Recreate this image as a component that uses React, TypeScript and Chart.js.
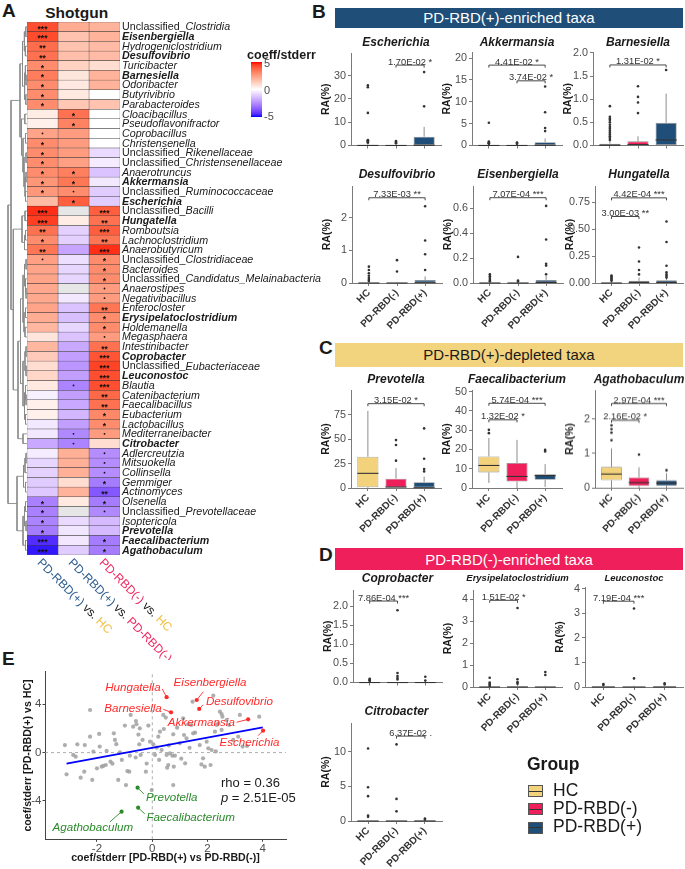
import React, { useEffect, useRef } from 'react';
import { Chart, registerables } from 'chart.js';

Chart.register(...registerables);

const FONT = '"Liberation Sans", Arial, Helvetica, sans-serif';
Chart.defaults.font.family = FONT;
Chart.defaults.color = '#4d4d4d';

/* ================= Panel A : heatmap data ================= */
const taxa = [
  'Unclassified_Clostridia', 'Eisenbergiella', 'Hydrogeniclostridium', 'Desulfovibrio', 'Turicibacter',
  'Barnesiella', 'Odoribacter', 'Butyrivibrio', 'Parabacteroides', 'Cloacibacillus',
  'Pseudoflavonifractor', 'Coprobacillus', 'Christensenella', 'Unclassified_Rikenellaceae', 'Unclassified_Christensenellaceae',
  'Anaerotruncus', 'Akkermansia', 'Unclassified_Ruminococcaceae', 'Escherichia', 'Unclassified_Bacilli',
  'Hungatella', 'Romboutsia', 'Lachnoclostridium', 'Anaerobutyricum', 'Unclassified_Clostridiaceae',
  'Bacteroides', 'Unclassified_Candidatus_Melainabacteria', 'Anaerostipes', 'Negativibacillus', 'Enterocloster',
  'Erysipelatoclostridium', 'Holdemanella', 'Megasphaera', 'Intestinibacter', 'Coprobacter',
  'Unclassified_Eubacteriaceae', 'Leuconostoc', 'Blautia', 'Catenibacterium', 'Faecalibacillus',
  'Eubacterium', 'Lactobacillus', 'Mediterraneibacter', 'Citrobacter', 'Adlercreutzia',
  'Mitsuokella', 'Collinsella', 'Gemmiger', 'Actinomyces', 'Olsenella',
  'Unclassified_Prevotellaceae', 'Isoptericola', 'Prevotella', 'Faecalibacterium', 'Agathobaculum',
];
const boldTaxa = ['Eisenbergiella', 'Desulfovibrio', 'Barnesiella', 'Akkermansia', 'Escherichia', 'Hungatella',
  'Erysipelatoclostridium', 'Coprobacter', 'Leuconostoc', 'Citrobacter', 'Prevotella', 'Faecalibacterium', 'Agathobaculum'];

// coefficient / stderr, PD-RBD(+) vs HC
const coefPlusVsHC = [
  4.3, 4.36, 3.7, 3.62, 3.0,
  3.34, 3.0, 3.0, 3.0, 0.5,
  0.4, 2.4, 3.0, 3.0, 3.0,
  3.0, 2.76, 2.7, 1.82, 4.8,
  4.59, 3.6, 3.0, 3.5, 2.5,
  2.4, 2.4, 2.3, 2.3, 2.4,
  2.2, 1.9, 0.7, 1.9, 1.4,
  0.9, 1.1, 0.6, -0.3, 0.4,
  0.4, -0.5, -0.5, -1.9, -0.4,
  -0.9, -1.0, -1.1, -1.2, -2.8,
  -2.8, -2.7, -2.9, -4.55, -4.88,
];
// PD-RBD(+) vs PD-RBD(-)
const coefPlusVsMinus = [
  2.2, 1.61, 1.6, 1.7, 1.2,
  0.68, 0.6, 0.6, 1.5, 3.6,
  3.2, 2.6, 2.6, 2.6, 2.5,
  3.3, 3.47, 3.0, 4.01, null,
  0.52, -1.0, -1.0, -2.0, -0.7,
  -0.9, -0.9, null, -0.5, -1.3,
  -1.4, -0.9, -1.3, -1.9, -2.1,
  -2.3, -2.1, -2.7, -2.1, -1.9,
  -1.6, -2.1, -2.6, -2.7, 2.1,
  2.1, 2.1, 0.9, 2.0, 0.6,
  null, -0.8, -0.53, -0.51, -1.11,
];
// PD-RBD(-) vs HC
const coefMinusVsHC = [
  2.0, 2.0, 1.8, 1.8, 0.9,
  2.0, 2.0, 0.0, 1.6, 0.0,
  0.0, 0.0, 0.0, -0.8, -0.4,
  -1.3, -0.5, -1.1, -1.1, 4.0,
  3.6, 4.0, 3.5, 4.8, 3.0,
  3.0, 3.0, 2.6, 2.6, 3.5,
  3.0, 3.0, 2.6, 3.6, 4.2,
  4.5, 4.3, 4.3, 3.8, 3.6,
  3.1, 3.0, 2.6, 0.9, -2.5,
  -2.5, -2.5, -2.9, -3.7, -2.9,
  -2.6, -1.5, -1.5, -2.9, -2.9,
];
const sigPlusVsHC = [
  '***', '***', '**', '**', '*', '*', '*', '*', '*', '', '', '.', '*', '*', '*', '*', '*', '*', '',
  '***', '***', '**', '*', '**', '.',
  '', '', '', '', '', '', '', '', '', '', '', '', '', '', '', '', '', '', '', '', '', '', '', '',
  '*', '*', '*', '*', '***', '***',
];
const sigPlusVsMinus = [
  '', '', '', '', '', '', '', '', '', '*', '*', '', '', '', '', '*', '*', '.', '*',
  '', '', '', '', '', '', '', '', '', '', '', '', '', '', '', '', '', '', '.',
  '', '', '', '', '.', '.',
  '', '', '', '', '', '', '', '', '', '', '',
];
const sigMinusVsHC = [
  '', '', '', '', '', '', '', '', '', '', '', '', '', '', '', '', '', '', '',
  '***', '**', '***', '**', '***', '*', '*', '*', '.', '.', '**', '*', '*', '.', '**', '***', '***', '***', '***',
  '**', '**', '*', '*', '.', '', '.', '.', '.', '*', '**', '*', '.', '', '', '*', '*',
];
const contrastParts = [['PD-RBD(+)', ' vs. ', 'HC'], ['PD-RBD(+)', ' vs. ', 'PD-RBD(-)'], ['PD-RBD(-)', ' vs. ', 'HC']];
const colorbarTicks = [5, 0, -5];
const coefLimit = 5.1;
// hierarchical clustering of rows: [left, right, height]
const dendrogramTree = [
  [
    [
      [[[0, 1, 1.2], [2, 3, 1.6], 2.6], [[4, [5, 6, 1], 1.6], [7, 8, 1.2], 2.4], 4.5],
      [[9, 10, 2.2], [[11, 12, 1.5], [[13, 14, 1], [[15, 16, 1], [17, 18, 1.5], 2], 3], 4], 5.5],
      7,
    ],
    [
      [[19, 20, 2], [[21, 22, 1.5], 23, 2.5], 5],
      [
        [
          [[[24, 25, 1], [26, [27, 28, 1], 1.5], 2.5], [[29, 30, 1.5], [31, 32, 2], 3], 4],
          [[[33, 34, 1], [35, 36, 1], 2], [[37, [38, 39, 1], 1.5], [40, 41, 1.5], 2.5], 4],
          6.5,
        ],
        [42, 43, 4],
        9,
      ],
      13.7,
    ],
    16,
  ],
  [
    [[[44, 45, 1], 46, 2], [47, 48, 1.5], 3.5],
    [[[49, 50, 1.5], [51, 52, 1], 2.5], [53, 54, 1.5], 4],
    10,
  ],
  19,
];

/* ================= Panels B-D : box plot data ================= */
const groups = ['HC', 'PD-RBD(-)', 'PD-RBD(+)'];
const boxTaxa = ['Escherichia', 'Akkermansia', 'Barnesiella', 'Desulfovibrio', 'Eisenbergiella', 'Hungatella',
  'Prevotella', 'Faecalibacterium', 'Agathobaculum', 'Coprobacter', 'Erysipelatoclostridium', 'Leuconostoc', 'Citrobacter'];
const boxQ1 = [
  [0, 0, 0], [0, 0, 0], [0, 0, 0], [0, 0, 0], [0, 0, 0], [0, 0, 0],
  [0.8, 0, 0], [8.1, 3.4, 4.3], [0.22, 0.05, 0.06],
  [0, 0, 0], [0, 0, 0], [0, 0, 0], [0, 0, 0],
];
const boxMedian = [
  [0.02, 0.02, 0.1], [0.01, 0.01, 0.05], [0.005, 0.02, 0.12], [0, 0, 0.01], [0, 0, 0.004], [0, 0.005, 0.005],
  [15, 1, 0.3], [11.7, 6, 6.4], [0.4, 0.15, 0.14],
  [0, 0, 0], [0, 0, 0], [0, 0, 0], [0, 0, 0],
];
const boxQ3 = [
  [0.3, 0.25, 3.8], [0.1, 0.08, 0.75], [0.04, 0.09, 0.49], [0.01, 0.01, 0.09], [0.002, 0.002, 0.025], [0.003, 0.02, 0.025],
  [32, 9.5, 6], [16.4, 13, 7.2], [0.61, 0.3, 0.22],
  [0.005, 0.005, 0.004], [0.01, 0.04, 0.02], [0.005, 0.02, 0.005], [0.02, 0.02, 0.01],
];
const boxWhiskerLow = [
  [0, 0, 0], [0, 0, 0], [0, 0, 0], [0, 0, 0], [0, 0, 0], [0, 0, 0],
  [0, 0, 0], [2.6, 0, 0.5], [0, 0, 0],
  [0, 0, 0], [0, 0, 0], [0, 0, 0], [0, 0, 0],
];
const boxWhiskerHigh = [
  [0.7, 0.6, 8], [0.25, 0.2, 1.6], [0.1, 0.2, 1.12], [0.03, 0.02, 0.2], [0.005, 0.004, 0.06], [0.008, 0.05, 0.05],
  [78.9, 20.4, 11.8], [26, 25, 12.4], [1.15, 0.6, 0.43],
  [0.01, 0.01, 0.01], [0.03, 0.1, 0.05], [0.01, 0.05, 0.01], [0.05, 0.05, 0.03],
];
const boxOutliers = [
  [[25.8, 25, 14, 2.3, 2.0, 1.8, 1.5, 1.2], [1.9, 1.6, 1.3, 1.0], [31.5, 16.8]],
  [[5.2, 0.9, 0.7, 0.6, 0.5, 0.4], [0.7, 0.55, 0.4], [13.5, 7.6, 4.0, 3.3]],
  [[0.85, 0.62, 0.58, 0.55, 0.5, 0.45, 0.4, 0.36, 0.32, 0.28, 0.24, 0.2, 0.16, 0.12], [1.28, 1.05, 0.93, 0.7], [1.63]],
  [[0.5, 0.4, 0.3, 0.22, 0.15, 0.1, 0.06], [0.7, 0.35], [2.35, 1.3, 0.88, 0.4]],
  [[0.07, 0.055, 0.04, 0.025, 0.015], [0.21, 0.02, 0.012], [0.62, 0.35, 0.155, 0.14, 0.07]],
  [[0.07, 0.06, 0.05, 0.04, 0.03, 0.02], [0.33, 0.2, 0.12, 0.08], [0.57, 0.38, 0.16, 0.1, 0.08, 0.065, 0.05]],
  [[], [49, 44, 28], [61, 30, 19.5, 17]],
  [[30.2, 28.5], [], [19.8, 19]],
  [[1.82, 1.71, 1.61, 1.39], [0.97], [0.51]],
  [[0.1, 0.08, 0.06, 0.04], [1.9, 0.25, 0.17, 0.12, 0.08], [0.15, 0.05]],
  [[0.42, 0.2, 0.15, 0.1, 0.05], [3.6, 0.35, 0.22, 0.15], [0.68, 0.55]],
  [[0.12, 0.08], [3.2, 0.35], [0.15, 0.1]],
  [[10.5, 4.9, 3.6, 0.8, 0.6], [11.1, 3.2, 1.4], [0.35, 0.2]],
];
const boxYMax = [39.7, 21.4, 2.02, 2.97, 0.78, 0.9, 100.3, 50.9, 2.85, 2.43, 4.42, 4.08, 14.2];
const boxYTicks = [
  [0, 10, 20, 30], [0, 5, 10, 15, 20], [0, 0.5, 1, 1.5, 2], [0, 1, 2], [0, 0.2, 0.4, 0.6], [0, 0.25, 0.5, 0.75],
  [0, 25, 50, 75], [0, 10, 20, 30, 40, 50], [0, 1, 2],
  [0, 0.5, 1, 1.5, 2], [0, 1, 2, 3, 4], [0, 1, 2, 3, 4], [0, 5, 10],
];
const boxTickDecimals = [0, 0, 1, 0, 1, 2, 0, 0, 0, 1, 0, 0, 0];
// significance brackets
const bracketTaxon = [0, 1, 1, 2, 3, 4, 5, 5, 6, 7, 7, 8, 8, 9, 10, 11, 12];
const bracketFrom = [1, 0, 1, 0, 0, 0, 0, 0, 0, 0, 0, 0, 0, 0, 0, 0, 1];
const bracketTo = [2, 2, 2, 2, 2, 2, 2, 1, 2, 2, 1, 2, 1, 1, 1, 1, 2];
const bracketY = [34.5, 18.4, 14.8, 1.74, 2.61, 0.686, 0.79, 0.617, 86.3, 44, 35.4, 2.46, 1.97, 2.14, 3.95, 3.5, 12.3];
const bracketLabel = ['1.70E-02 *', '4.41E-02 *', '3.74E-02 *', '1.31E-02 *', '7.33E-03 **', '7.07E-04 ***',
  '4.42E-04 ***', '3.00E-03 **', '3.15E-02 *', '5.74E-04 ***', '1.32E-02 *', '2.97E-04 ***', '2.16E-02 *',
  '7.86E-04 ***', '1.51E-02 *', '7.19E-04 ***', '6.37E-02 .'];

/* ================= Panel E : scatter data ================= */
const otherTaxaX = [
  -2.25, -3.16, -2.71, -2.44, -2.25, -1.92, -2.86, -2.77, -3.10, -2.59,
  -2.46, -2.17, -2.13, -1.83, -1.77, -1.68, -1.65, -1.51, -1.44, -1.39,
  -1.35, -1.23, -1.17, -0.99, -0.95, -0.90, -0.83, -0.81, -0.78, -0.69,
  -0.59, -0.57, -0.47, -0.45, -0.42, -0.35, -0.23, -0.14, -0.08, -0.02,
  0.04, 0.10, 0.16, 0.22, 0.28, 0.34, 0.40, 0.42, 0.49, 0.52,
  0.54, 0.58, 0.64, 0.73, 0.76, 0.76, 0.78, 0.82, 0.90, 1.00,
  1.12, 1.15, 1.19, 1.24, 1.30, 1.42, 1.48, 1.55, 1.46, 1.72,
  1.78, 1.84, 1.90, 1.97, 2.03, 2.11, 2.15, 2.21, 2.27, 2.39,
  2.54, 2.69, 3.17, 3.87, 2.93, 3.11, 3.27, 3.43, 2.45, 2.51,
  2.78, 2.33, 2.51, -1.1, -0.6, 0.25, 1.35, -1.9, -0.2, 1.05,
  -2.0, 0.6, -1.3, 2.3, -0.5,
];
const otherTaxaY = [
  3.53, 0.63, 0.69, 0.63, 1.32, 1.55, -0.19, -0.33, -1.79, -2.07,
  -1.57, -2.26, 0.08, -1.16, -1.10, -1.02, 0.14, -0.75, -0.91, 1.60,
  1.05, -2.26, 0.03, 2.24, -2.68, -1.52, -1.57, -0.25, 3.12, 2.15,
  2.62, 2.35, 0.69, 2.01, -0.19, 1.05, -1.57, 2.24, 0.91, -3.09,
  0.69, -0.19, 0.41, 1.32, 1.74, 0.22, 3.12, 1.96, 2.90, -0.19,
  -1.24, -1.02, -0.06, -0.25, 1.52, -2.68, -1.16, -0.25, 2.07, 0.77,
  2.84, 1.46, -0.88, 1.19, 2.35, 2.29, 1.60, 1.65, 4.22, 0.63,
  -0.97, -0.47, -1.16, 0.91, 0.36, -1.02, 0.22, 4.72, 1.74, 2.43,
  2.98, 2.70, 3.12, 2.98, 1.05, 1.32, 0.50, 0.55, 3.39, 3.20,
  2.29, 2.29, 1.88, -0.6, -0.4, -0.6, 0.4, 0.5, -0.9, -0.5,
  -1.3, 0.6, 0.7, 0.1, 1.5,
];
const highlightTaxa = ['Hungatella', 'Eisenbergiella', 'Desulfovibrio', 'Barnesiella', 'Akkermansia', 'Escherichia',
  'Prevotella', 'Faecalibacterium', 'Agathobaculum'];
const highlightGroup = ['enriched', 'enriched', 'enriched', 'enriched', 'enriched', 'enriched', 'depleted', 'depleted', 'depleted'];
const fitLineX = [-3.1, 4.0];
const fitLineY = [-0.91, 2.1];
const eXTicks = [-2, 0, 2, 4];
const eYTicks = [-4, 0, 4];
const rhoValue = '0.36';
const pValue = '2.51E-05';

/* ================= Layout / styles (not data) ================= */
const groupColors = ['#F3D27C', '#EE1F5B', '#1F4E79'];
const RED = '#FF2B2B';
const GREEN = '#2B8A2B';
const contrastColors = { 'PD-RBD(+)': '#2E5E8E', 'PD-RBD(-)': '#EE2A63', 'HC': '#F2BF45', ' vs. ': '#1a1a1a' };
// [L, R, T, B, titleY, showX, titleSize]
const boxLayout = [
  [351, 441, 53, 150, 42.3, false, 12],
  [472, 562, 52, 150, 42.3, false, 12],
  [593, 683, 52, 150, 42.3, false, 12],
  [352, 442, 186, 283, 175, true, 12],
  [473, 563, 186, 283, 175, true, 12],
  [595, 683, 186, 283, 175, true, 12],
  [351, 441, 390, 488.3, 380, true, 12],
  [472, 562, 390, 488.3, 380, true, 12],
  [595, 683, 390, 487.6, 380, true, 12],
  [353, 442, 590, 687.3, 579, false, 12],
  [473, 562, 590, 687.3, 578.5, true, 9.5],
  [585, 683, 587, 687.3, 578.5, true, 9.5],
  [351, 442, 722.7, 820.7, 711.7, true, 12],
];
const BOX_LEFT = 37;
const BOX_TOP = 22;
const BOX_RIGHT = 14;
// [dx, dy, align, connector dx, connector dy]
const highlightLabelLayout = [
  [-6, -9.6, 'right', -4.4, -8.3],
  [13.3, -17.7, 'center', 6.6, -8.3],
  [6.7, -6.7, 'left', 4, -4],
  [-9.3, -4, 'right', -7.7, -3],
  [-13.3, 3, 'right', -11.6, 3],
  [-13.6, 12, 'center', -5, 5],
  [8.3, 9.6, 'left', 6.3, 6.3],
  [8.4, 10.6, 'left', 6.7, 6.3],
  [-28.7, 16.6, 'center', -11.7, 10.3],
];

/* ================= colour helpers (CIELAB interpolation, like ggplot) ================= */
function toLin(c) { c /= 255; return c <= 0.04045 ? c / 12.92 : Math.pow((c + 0.055) / 1.055, 2.4); }
function fromLin(c) {
  const v = c <= 0.0031308 ? 12.92 * c : 1.055 * Math.pow(Math.max(c, 0), 1 / 2.4) - 0.055;
  return Math.round(Math.max(0, Math.min(1, v)) * 255);
}
function rgbToLab(rgb) {
  const R = toLin(rgb[0]), G = toLin(rgb[1]), B = toLin(rgb[2]);
  const X = (0.4124 * R + 0.3576 * G + 0.1805 * B) / 0.95047;
  const Y = 0.2126 * R + 0.7152 * G + 0.0722 * B;
  const Z = (0.0193 * R + 0.1192 * G + 0.9505 * B) / 1.08883;
  const f = (t) => (t > 0.008856 ? Math.cbrt(t) : 7.787 * t + 16 / 116);
  const fx = f(X), fy = f(Y), fz = f(Z);
  return [116 * fy - 16, 500 * (fx - fy), 200 * (fy - fz)];
}
function labToRgb(lab) {
  const fy = (lab[0] + 16) / 116, fx = fy + lab[1] / 500, fz = fy - lab[2] / 200;
  const inv = (t) => (t * t * t > 0.008856 ? t * t * t : (t - 16 / 116) / 7.787);
  const X = inv(fx) * 0.95047, Y = inv(fy), Z = inv(fz) * 1.08883;
  return [
    fromLin(3.2406 * X - 1.5372 * Y - 0.4986 * Z),
    fromLin(-0.9689 * X + 1.8758 * Y + 0.0415 * Z),
    fromLin(0.0557 * X - 0.204 * Y + 1.057 * Z),
  ];
}
const LAB_MID = rgbToLab([255, 255, 255]);
const LAB_HIGH = rgbToLab([255, 0, 0]);
const LAB_LOW = rgbToLab([0, 0, 255]);
function coefColor(v) {
  if (v === null || v === undefined) return '#E6E6E6';
  const t = Math.max(-1, Math.min(1, v / coefLimit));
  const end = t >= 0 ? LAB_HIGH : LAB_LOW;
  const s = Math.abs(t);
  const lab = LAB_MID.map((c, i) => c + (end[i] - c) * s);
  const rgb = labToRgb(lab);
  return `rgb(${rgb[0]},${rgb[1]},${rgb[2]})`;
}

/* ================= chart builders ================= */
const noInteraction = { legend: { display: false }, tooltip: { enabled: false } };

function layoutTree(node, segs) {
  if (typeof node === 'number') return { y: node, h: 0 };
  const a = layoutTree(node[0], segs);
  const b = layoutTree(node[1], segs);
  const h = node[2];
  segs.push([a.h, a.y, h, a.y]);
  segs.push([b.h, b.y, h, b.y]);
  segs.push([h, a.y, h, b.y]);
  return { y: (a.y + b.y) / 2, h };
}

function makeDendrogram(canvas) {
  const segs = [];
  layoutTree(dendrogramTree, segs);
  const pts = [];
  segs.forEach((s) => { pts.push({ x: s[0], y: s[1] }, { x: s[2], y: s[3] }, { x: NaN, y: NaN }); });
  return new Chart(canvas, {
    type: 'scatter',
    data: { datasets: [{ data: pts, showLine: true, borderColor: '#8a8a8a', borderWidth: 0.9, pointRadius: 0, spanGaps: false, clip: false }] },
    options: {
      animation: false, responsive: false, events: [],
      layout: { padding: 0 },
      scales: {
        x: { type: 'linear', min: 0, max: 27, reverse: true, display: false },
        y: { type: 'linear', min: -0.5, max: taxa.length - 0.5, reverse: true, display: false },
      },
      plugins: noInteraction,
    },
  });
}

const heatmapTextPlugin = {
  id: 'heatmapText',
  afterDatasetsDraw(chart) {
    const { ctx, chartArea } = chart;
    const xs = chart.scales.x, ys = chart.scales.y;
    ctx.save();
    const sigs = [sigPlusVsHC, sigPlusVsMinus, sigMinusVsHC];
    sigs.forEach((col, k) => {
      const cx = xs.getPixelForValue(k + 0.5);
      col.forEach((s, i) => {
        if (!s) return;
        const cy = ys.getPixelForValue(i);
        ctx.fillStyle = '#111';
        if (s === '.') {
          ctx.beginPath(); ctx.arc(cx, cy, 0.9, 0, Math.PI * 2); ctx.fill();
        } else {
          ctx.font = `bold 8.5px ${FONT}`;
          ctx.textAlign = 'center'; ctx.textBaseline = 'alphabetic';
          ctx.fillText(s, cx, cy + 4.9);
        }
      });
    });
    // row labels
    ctx.textAlign = 'left'; ctx.textBaseline = 'middle'; ctx.fillStyle = '#1a1a1a';
    taxa.forEach((name, i) => {
      const bold = boldTaxa.indexOf(name) >= 0;
      const y = ys.getPixelForValue(i) + 0.5;
      let x = chartArea.right + 2;
      const pre = name.indexOf('Unclassified_') === 0 ? 'Unclassified_' : '';
      const rest = name.slice(pre.length);
      if (pre) {
        ctx.font = `${bold ? 'bold ' : ''}10.7px ${FONT}`;
        ctx.fillText(pre, x, y);
        x += ctx.measureText(pre).width;
      }
      ctx.font = `italic ${bold ? 'bold ' : ''}10.7px ${FONT}`;
      ctx.fillText(rest, x, y);
    });
    // column labels
    contrastParts.forEach((parts, k) => {
      const cx = xs.getPixelForValue(k + 0.5);
      ctx.save();
      ctx.translate(cx - 3.5, chartArea.bottom + 6);
      ctx.rotate(Math.PI / 4);
      ctx.font = `12px ${FONT}`; ctx.textAlign = 'left'; ctx.textBaseline = 'middle';
      let x = 0;
      parts.forEach((p) => { ctx.fillStyle = contrastColors[p]; ctx.fillText(p, x, 0); x += ctx.measureText(p).width; });
      ctx.restore();
    });
    ctx.restore();
  },
};

function makeHeatmap(canvas) {
  const cols = [coefPlusVsHC, coefPlusVsMinus, coefMinusVsHC];
  return new Chart(canvas, {
    type: 'bar',
    data: {
      labels: taxa,
      datasets: cols.map((vals, k) => ({
        label: contrastParts[k].join(''),
        data: taxa.map(() => 1),
        backgroundColor: vals.map((v) => coefColor(v)),
        borderColor: '#3a3a3a',
        borderWidth: 0.5,
        borderSkipped: false,
        barPercentage: 1,
        categoryPercentage: 1,
      })),
    },
    options: {
      indexAxis: 'y', animation: false, responsive: false, events: [],
      layout: { padding: { left: 0, right: 207, top: 0, bottom: 105 } },
      scales: {
        x: { type: 'linear', stacked: true, display: false, min: 0, max: 3 },
        y: { stacked: true, display: false },
      },
      plugins: noInteraction,
    },
    plugins: [heatmapTextPlugin],
  });
}

function boxGeometry(i) {
  const [L, R, T, B, , showX] = boxLayout[i];
  const bottomExtra = showX ? 46 : 4;
  return { left: L - BOX_LEFT, top: T - BOX_TOP, width: R - L + BOX_LEFT + BOX_RIGHT, height: B - T + BOX_TOP + bottomExtra, bottomExtra };
}

function makeBox(canvas, i) {
  const lay = boxLayout[i];
  const showX = lay[5];
  const titleSize = lay[6];
  const geom = boxGeometry(i);
  const outlierPts = [];
  boxOutliers[i].forEach((arr, k) => arr.forEach((v) => outlierPts.push({ x: k + 1, y: v })));
  const dec = boxTickDecimals[i];
  const plugin = {
    id: 'boxParts' + i,
    beforeDatasetsDraw(chart) {
      const { ctx } = chart;
      const xs = chart.scales.x, ys = chart.scales.y;
      ctx.save();
      ctx.strokeStyle = '#8c8c8c'; ctx.lineWidth = 1;
      groups.forEach((g, k) => {
        const px = xs.getPixelForValue(k + 1);
        ctx.beginPath();
        ctx.moveTo(px, ys.getPixelForValue(boxQ3[i][k])); ctx.lineTo(px, ys.getPixelForValue(boxWhiskerHigh[i][k]));
        ctx.moveTo(px, ys.getPixelForValue(boxQ1[i][k])); ctx.lineTo(px, ys.getPixelForValue(boxWhiskerLow[i][k]));
        ctx.stroke();
      });
      ctx.restore();
    },
    afterDatasetsDraw(chart) {
      const { ctx, chartArea } = chart;
      const xs = chart.scales.x, ys = chart.scales.y;
      ctx.save();
      // medians
      const meta = chart.getDatasetMeta(1);
      ctx.strokeStyle = '#333'; ctx.lineWidth = 1.1;
      meta.data.forEach((el, k) => {
        const p = el.getProps(['x', 'width'], true);
        const my = ys.getPixelForValue(boxMedian[i][k]);
        ctx.beginPath(); ctx.moveTo(p.x - p.width / 2, my); ctx.lineTo(p.x + p.width / 2, my); ctx.stroke();
      });
      // brackets
      ctx.strokeStyle = '#333'; ctx.lineWidth = 0.9; ctx.fillStyle = '#333';
      ctx.font = `9.3px ${FONT}`; ctx.textAlign = 'center'; ctx.textBaseline = 'alphabetic';
      bracketTaxon.forEach((t, b) => {
        if (t !== i) return;
        const x1 = xs.getPixelForValue(bracketFrom[b] + 1);
        const x2 = xs.getPixelForValue(bracketTo[b] + 1);
        const yy = ys.getPixelForValue(bracketY[b]);
        ctx.beginPath();
        ctx.moveTo(x1, yy + 2.5); ctx.lineTo(x1, yy); ctx.lineTo(x2, yy); ctx.lineTo(x2, yy + 2.5);
        ctx.stroke();
        ctx.fillText(bracketLabel[b], (x1 + x2) / 2, yy - 0.5);
      });
      // title
      ctx.fillStyle = '#1a1a1a';
      ctx.font = `italic bold ${titleSize}px ${FONT}`;
      ctx.textBaseline = 'middle';
      ctx.fillText(boxTaxa[i], (chartArea.left + chartArea.right) / 2, lay[4] - geom.top);
      ctx.restore();
    },
  };
  return new Chart(canvas, {
    type: 'bar',
    data: {
      datasets: [
        { type: 'scatter', data: outlierPts, pointRadius: 1.3, pointBackgroundColor: '#333', pointBorderWidth: 0, order: 0 },
        {
          type: 'bar',
          data: groups.map((g, k) => ({ x: k + 1, y: [boxQ1[i][k], boxQ3[i][k]] })),
          backgroundColor: groupColors, borderColor: '#8c8c8c', borderWidth: 0.8, borderSkipped: false,
          barPercentage: 0.75, categoryPercentage: 1, order: 1,
        },
      ],
    },
    options: {
      animation: false, responsive: false, events: [],
      layout: { padding: { left: 2, right: BOX_RIGHT, top: BOX_TOP, bottom: 0 } },
      scales: {
        x: {
          type: 'linear', min: 0.4, max: 3.6, offset: false,
          afterBuildTicks: (s) => { s.ticks = groups.map((g, k) => ({ value: k + 1 })); },
          grid: { display: true, drawOnChartArea: false, offset: false, tickLength: 3, color: '#7a7a7a' },
          border: { display: true, color: '#7a7a7a', width: 1 },
          ticks: {
            display: showX, autoSkip: false, maxRotation: 45, minRotation: 45, padding: 1,
            font: { size: 10, weight: 'bold' }, color: '#333',
            callback: (v) => groups[Math.round(v) - 1],
          },
          afterFit: (s) => { s.height = geom.bottomExtra; },
        },
        y: {
          type: 'linear', min: 0, max: boxYMax[i],
          afterBuildTicks: (s) => { s.ticks = boxYTicks[i].map((v) => ({ value: v })); },
          grid: { display: true, drawOnChartArea: false, tickLength: 3, color: '#7a7a7a' },
          border: { display: true, color: '#7a7a7a', width: 1 },
          ticks: { font: { size: 10.8 }, color: '#4d4d4d', padding: 2, callback: (v) => Number(v).toFixed(dec) },
          title: { display: true, text: 'RA(%)', font: { size: 10.5, weight: 'bold' }, color: '#1a1a1a', padding: { top: 4, bottom: 0 } },
          afterFit: (s) => { s.width = BOX_LEFT - 2; },
        },
      },
      plugins: noInteraction,
    },
    plugins: [plugin],
  });
}

const scatterLabelPlugin = {
  id: 'scatterLabels',
  afterDatasetsDraw(chart) {
    const { ctx } = chart;
    const xs = chart.scales.x, ys = chart.scales.y;
    ctx.save();
    highlightTaxa.forEach((name, k) => {
      const idx = taxa.indexOf(name);
      const px = xs.getPixelForValue(coefPlusVsMinus[idx]);
      const py = ys.getPixelForValue(coefPlusVsHC[idx]);
      const [dx, dy, align, cdx, cdy] = highlightLabelLayout[k];
      const col = highlightGroup[k] === 'enriched' ? RED : GREEN;
      ctx.strokeStyle = col; ctx.lineWidth = 0.9;
      ctx.beginPath(); ctx.moveTo(px + cdx, py + cdy); ctx.lineTo(px, py); ctx.stroke();
      ctx.fillStyle = col; ctx.font = `italic 11.6px ${FONT}`;
      ctx.textAlign = align; ctx.textBaseline = 'middle';
      ctx.fillText(name, px + dx, py + dy);
    });
    ctx.restore();
  },
};

function makeScatterE(canvas) {
  const hx = highlightTaxa.map((n) => coefPlusVsMinus[taxa.indexOf(n)]);
  const hy = highlightTaxa.map((n) => coefPlusVsHC[taxa.indexOf(n)]);
  const xMin = -3.88, xMax = 4.84, yMin = -7.17, yMax = 6.7;
  return new Chart(canvas, {
    type: 'scatter',
    data: {
      datasets: [
        {
          data: hx.map((x, k) => ({ x, y: hy[k] })),
          pointRadius: 2.1, pointBorderWidth: 0,
          pointBackgroundColor: highlightGroup.map((g) => (g === 'enriched' ? RED : GREEN)),
        },
        {
          type: 'line', data: fitLineX.map((x, k) => ({ x, y: fitLineY[k] })),
          borderColor: '#0000FF', borderWidth: 1.8, pointRadius: 0,
        },
        {
          data: otherTaxaX.map((x, k) => ({ x, y: otherTaxaY[k] })),
          pointRadius: 2.1, pointBorderWidth: 0, pointBackgroundColor: 'rgba(160,160,160,0.85)',
        },
        {
          type: 'line', data: [{ x: 0, y: yMin }, { x: 0, y: yMax }],
          borderColor: '#9a9a9a', borderWidth: 0.8, borderDash: [3, 3], pointRadius: 0,
        },
        {
          type: 'line', data: [{ x: xMin, y: 0 }, { x: xMax, y: 0 }],
          borderColor: '#9a9a9a', borderWidth: 0.8, borderDash: [3, 3], pointRadius: 0,
        },
      ],
    },
    options: {
      animation: false, responsive: false, events: [],
      layout: { padding: { left: 18, right: 4, top: 11.7, bottom: 0 } },
      scales: {
        x: {
          type: 'linear', min: xMin, max: xMax,
          afterBuildTicks: (s) => { s.ticks = eXTicks.map((v) => ({ value: v })); },
          grid: { display: true, drawOnChartArea: false, tickLength: 2.5, color: '#444' },
          border: { display: true, color: '#444', width: 1 },
          ticks: { font: { size: 11.5 }, color: '#4d4d4d', padding: 0 },
          title: { display: true, text: 'coef/stderr [PD-RBD(+) vs PD-RBD(-)]', font: { size: 10.6, weight: 'bold' }, color: '#1a1a1a', padding: { top: 0, bottom: 4.5 } },
          afterFit: (s) => { s.height = 29.7; },
        },
        y: {
          type: 'linear', min: yMin, max: yMax,
          afterBuildTicks: (s) => { s.ticks = eYTicks.map((v) => ({ value: v })); },
          grid: { display: true, drawOnChartArea: false, tickLength: 2.5, color: '#444' },
          border: { display: true, color: '#444', width: 1 },
          ticks: { font: { size: 11.5 }, color: '#4d4d4d', padding: 1 },
          title: { display: true, text: 'coef/stderr [PD-RBD(+) vs HC]', font: { size: 10.6, weight: 'bold' }, color: '#1a1a1a', padding: { top: 4, bottom: 0 } },
          afterFit: (s) => { s.width = 27; },
        },
      },
      plugins: noInteraction,
    },
    plugins: [scatterLabelPlugin],
  });
}

/* ================= React components ================= */
function ChartCanvas({ left, top, width, height, make }) {
  const ref = useRef(null);
  useEffect(() => {
    const chart = make(ref.current);
    return () => chart.destroy();
  }, []);
  return <canvas ref={ref} width={width} height={height} style={{ position: 'absolute', left, top, width, height }} />;
}

function Txt({ x, y, size, bold = false, italic = false, color = '#1a1a1a', align = 'left', children }) {
  const tx = align === 'center' ? '-50%' : align === 'right' ? '-100%' : '0';
  return (
    <div style={{
      position: 'absolute', left: x, top: y, transform: `translate(${tx}, -50%)`, fontSize: size,
      fontWeight: bold ? 'bold' : 'normal', fontStyle: italic ? 'italic' : 'normal', color,
      lineHeight: 1, whiteSpace: 'nowrap',
    }}>{children}</div>
  );
}

function Header({ top, height, bg, color, text }) {
  return (
    <div style={{
      position: 'absolute', left: 335, top, width: 348, height, background: bg, color,
      display: 'flex', alignItems: 'center', justifyContent: 'center', fontSize: 15, lineHeight: 1,
    }}>{text}</div>
  );
}

export default function App() {
  const cbTop = 62, cbHeight = 55;
  const stops = [];
  for (let s = 0; s <= 20; s++) {
    const v = coefLimit - (s / 20) * 2 * coefLimit;
    stops.push(`${coefColor(v)} ${(s / 20) * 100}%`);
  }
  const legendY = [790.5, 808.8, 827];
  return (
    <div style={{ position: 'absolute', left: 0, top: 0, width: 685, height: 869, overflow: 'hidden', background: '#fff', fontFamily: FONT, color: '#1a1a1a' }}>
      {/* panel letters */}
      <Txt x={2} y={10} size={19} bold>A</Txt>
      <Txt x={312} y={10.5} size={19} bold>B</Txt>
      <Txt x={319} y={346.5} size={19} bold>C</Txt>
      <Txt x={319} y={553.5} size={19} bold>D</Txt>
      <Txt x={2} y={658.3} size={19} bold>E</Txt>

      {/* Panel A */}
      <Txt x={76.7} y={12.5} size={15.5} bold align="center">Shotgun</Txt>
      <ChartCanvas left={0} top={22} width={27} height={533} make={makeDendrogram} />
      <ChartCanvas left={27} top={22} width={300} height={638} make={makeHeatmap} />
      <Txt x={281.5} y={55} size={12.5} bold align="center">coeff/stderr</Txt>
      <div style={{ position: 'absolute', left: 251, top: cbTop, width: 11, height: cbHeight, background: `linear-gradient(to bottom, ${stops.join(', ')})` }} />
      {colorbarTicks.map((v) => (
        <Txt key={v} x={264} y={cbTop + ((coefLimit - v) / (2 * coefLimit)) * cbHeight} size={11} color="#4d4d4d">{String(v)}</Txt>
      ))}

      {/* Panel B-D headers */}
      <Header top={8.3} height={19.4} bg="#1F4E79" color="#fff" text="PD-RBD(+)-enriched taxa" />
      <Header top={343.3} height={23.4} bg="#F2D37E" color="#1a1a1a" text="PD-RBD(+)-depleted taxa" />
      <Header top={548.3} height={21.7} bg="#EF1F5B" color="#fff" text="PD-RBD(-)-enriched taxa" />

      {boxTaxa.map((t, i) => {
        const g = boxGeometry(i);
        return <ChartCanvas key={t} left={g.left} top={g.top} width={g.width} height={g.height} make={(c) => makeBox(c, i)} />;
      })}

      {/* Legend */}
      <Txt x={527} y={765} size={17.5} bold>Group</Txt>
      {groups.map((g, k) => (
        <React.Fragment key={g}>
          <div style={{ position: 'absolute', left: 528, top: legendY[k] - 5.5, width: 13, height: 10, background: groupColors[k], border: '1px solid #555' }}>
            <div style={{ position: 'absolute', left: 0, right: 0, top: 4.5, height: 1, background: '#333' }} />
          </div>
          <Txt x={553} y={legendY[k]} size={17.5}>{g}</Txt>
        </React.Fragment>
      ))}

      {/* Panel E */}
      <ChartCanvas left={0} top={660} width={290} height={209} make={makeScatterE} />
      <Txt x={221} y={781.7} size={13}>{`rho = ${rhoValue}`}</Txt>
      <Txt x={221} y={796.5} size={13}><i>p</i>{` = ${pValue}`}</Txt>
    </div>
  );
}
